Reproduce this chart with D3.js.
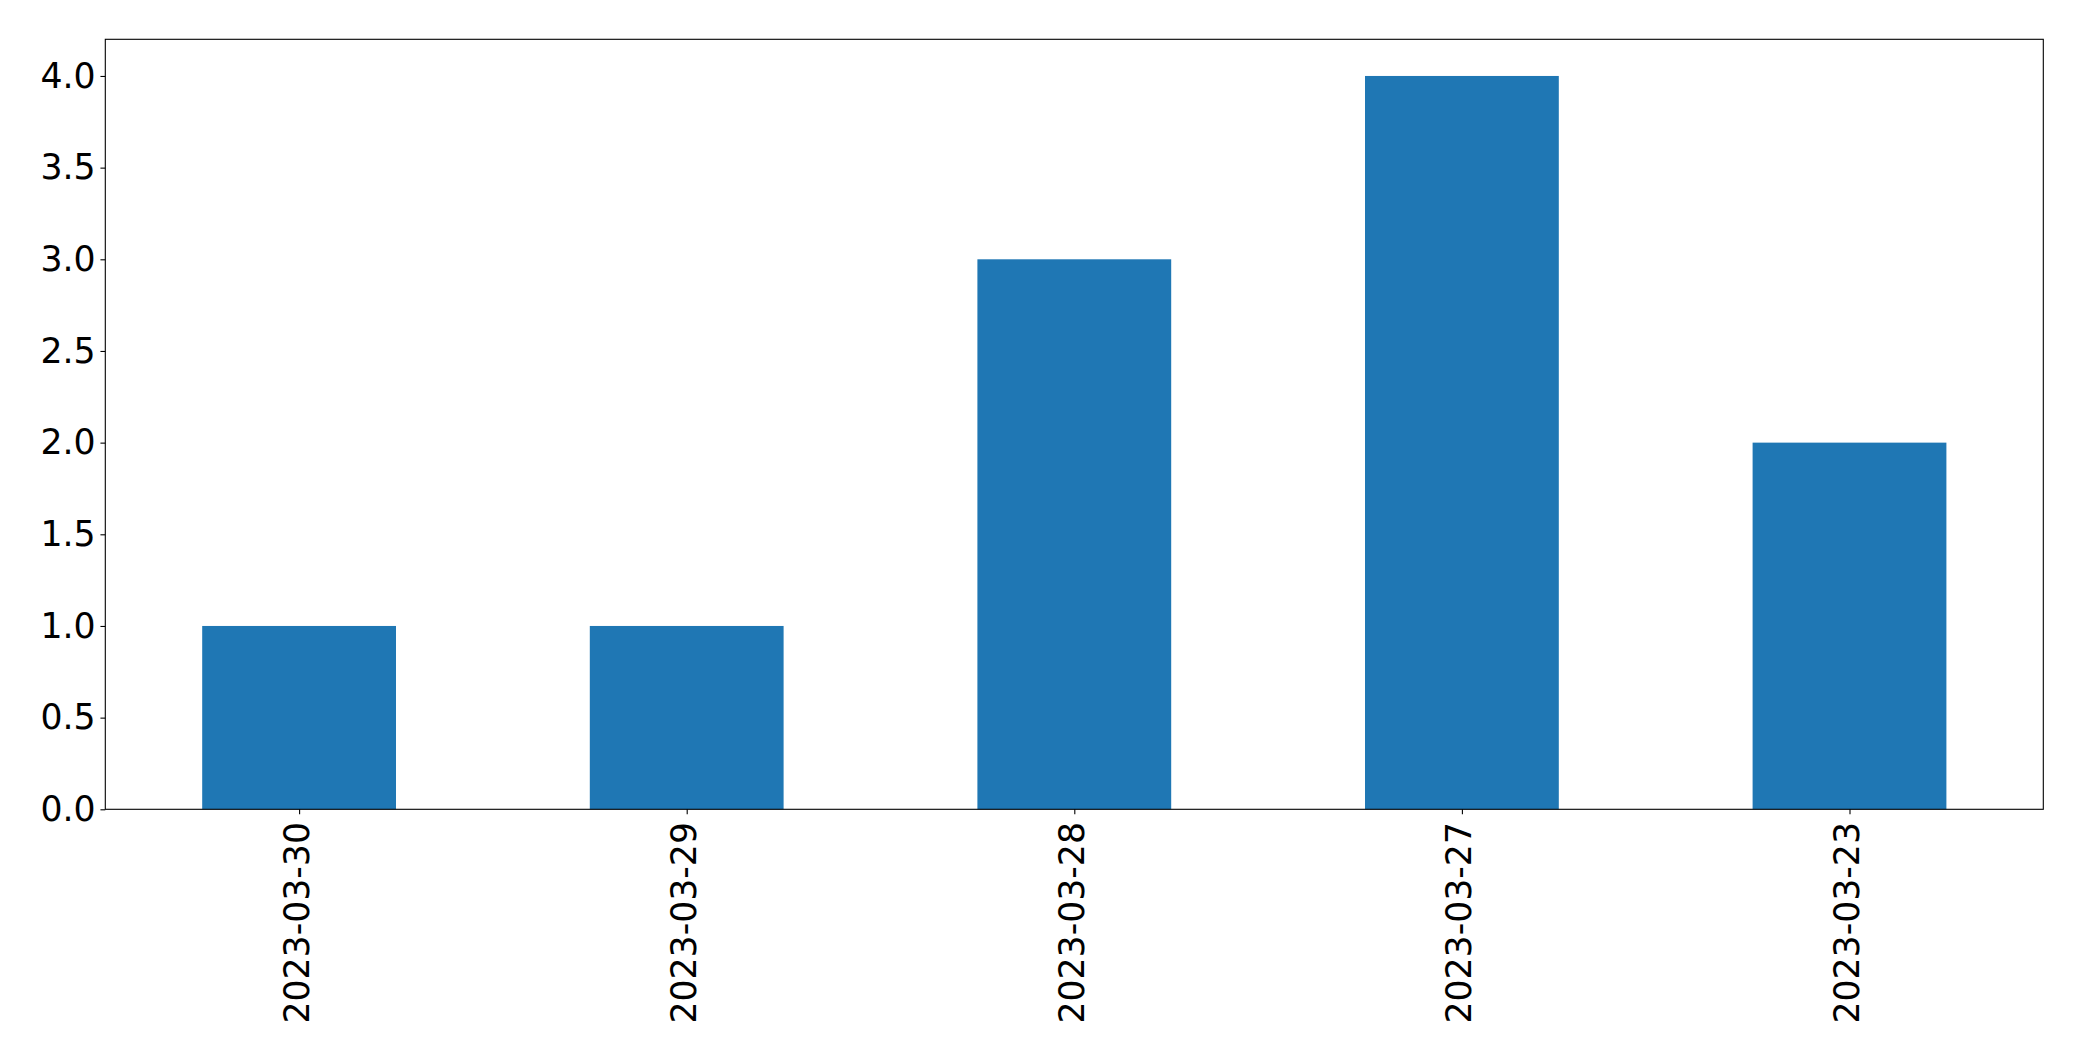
<!DOCTYPE html>
<html>
<head>
<meta charset="utf-8">
<script src="https://cdn.jsdelivr.net/npm/d3@7"></script>
<style>
html,body{margin:0;padding:0;background:#fff;}
svg{display:block;}
</style>
</head>
<body>
<svg id="chart" width="2082" height="1061"></svg>
<script>
const categories = ["2023-03-30", "2023-03-29", "2023-03-28", "2023-03-27", "2023-03-23"];
const values = [1, 1, 3, 4, 2];
const yTicks = [0, 0.5, 1.0, 1.5, 2.0, 2.5, 3.0, 3.5, 4.0];

const svg = d3.select("#chart");
const margin = {left: 105.3, top: 39.3, right: 2082 - 2043.3, bottom: 1061 - 809.3};
const W = 2082, H = 1061;
const x0 = margin.left, x1 = W - margin.right, y0 = H - margin.bottom, y1 = margin.top;

// matplotlib-like: xlim -0.5..n-0.5, bar width 0.5
const x = d3.scaleLinear().domain([-0.5, categories.length - 0.5]).range([x0, x1]);
const y = d3.scaleLinear().domain([0, 4.2]).range([y0, y1]);
const font = "'DejaVu Sans', sans-serif";
const fs = 34.7;

svg.append("g").selectAll("rect").data(values).join("rect")
  .attr("x", (d, i) => x(i - 0.25))
  .attr("width", (d, i) => x(i + 0.25) - x(i - 0.25))
  .attr("y", d => y(d))
  .attr("height", d => y(0) - y(d))
  .attr("fill", "#1f77b4");

const tickLen = 4.86, pad = 4.86;

const yAxis = d3.axisLeft(y).tickValues(yTicks).tickFormat(d3.format(".1f"))
  .tickSize(tickLen).tickPadding(pad);
const gy = svg.append("g").attr("transform", `translate(${x0},0)`).call(yAxis);
gy.select(".domain").remove();
gy.selectAll("line").attr("stroke", "#000").attr("stroke-width", 1.1);
gy.selectAll("text").attr("font-family", font).attr("font-size", fs).attr("fill", "#000");

const xAxis = d3.axisBottom(x).tickValues(d3.range(categories.length))
  .tickFormat(i => categories[i]).tickSize(tickLen).tickPadding(pad);
const gx = svg.append("g").attr("transform", `translate(0,${y0})`).call(xAxis);
gx.select(".domain").remove();
gx.selectAll("line").attr("stroke", "#000").attr("stroke-width", 1.1);
gx.selectAll("text")
  .attr("font-family", font).attr("font-size", fs).attr("fill", "#000")
  .attr("transform", `translate(0,${tickLen + pad + 3}) rotate(-90)`)
  .attr("x", 0).attr("y", 0).attr("dy", "0.26em")
  .attr("text-anchor", "end");

svg.append("rect")
  .attr("x", x0).attr("y", y1).attr("width", x1 - x0).attr("height", y0 - y1)
  .attr("fill", "none").attr("stroke", "#000").attr("stroke-width", 1.1);
</script>
</body>
</html>
